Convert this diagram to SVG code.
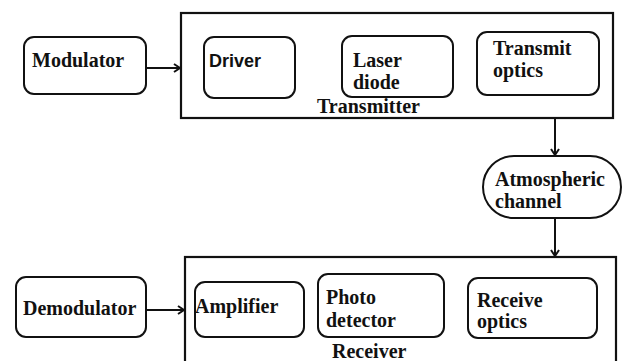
<svg xmlns="http://www.w3.org/2000/svg" width="628" height="361" viewBox="0 0 628 361">
  <style>
    .box { fill: #fff; stroke: #111; stroke-width: 2; }
    .frame { fill: #fff; stroke: #111; stroke-width: 2.2; }
    .serif { font-family: "Liberation Serif", "Times New Roman", serif; font-weight: bold; font-size: 20px; fill: #111; }
    .sans { font-family: "Liberation Sans", Arial, sans-serif; font-weight: bold; font-size: 18px; fill: #111; }
    .wire { fill: none; stroke: #111; stroke-width: 2; }
  </style>
  <defs>
    <marker id="arrow" markerWidth="10" markerHeight="10" refX="8" refY="5" orient="auto" markerUnits="userSpaceOnUse">
      <path d="M2,1 L8,5 L2,9" fill="none" stroke="#111" stroke-width="2"/>
    </marker>
  </defs>
  <rect width="628" height="361" fill="#fff"/>

  <g id="transmitter">
    <rect class="frame" x="181" y="13" width="432" height="105"/>
    <text class="serif" x="317" y="113">Transmitter</text>
  </g>
  <g id="receiver">
    <rect class="frame" x="185" y="257" width="431" height="110"/>
    <text class="serif" x="332" y="358">Receiver</text>
  </g>

  <g id="modulator">
    <rect class="box" x="24" y="37" width="122" height="57" rx="10"/>
    <text class="serif" x="32" y="67">Modulator</text>
  </g>
  <g id="driver">
    <rect class="box" x="204" y="37" width="91" height="61" rx="10"/>
    <text class="sans" x="209" y="67">Driver</text>
  </g>
  <g id="laser-diode">
    <rect class="box" x="342" y="36" width="111" height="61" rx="10"/>
    <text class="serif" x="353" y="67">Laser</text>
    <text class="serif" x="353" y="89">diode</text>
  </g>
  <g id="transmit-optics">
    <rect class="box" x="477" y="32" width="122" height="63" rx="10"/>
    <text class="serif" x="493" y="55">Transmit</text>
    <text class="serif" x="493" y="77">optics</text>
  </g>
  <g id="atmospheric-channel">
    <rect class="box" x="483" y="156" width="138" height="62" rx="31"/>
    <text class="serif" x="495" y="186">Atmospheric</text>
    <text class="serif" x="495" y="208">channel</text>
  </g>
  <g id="demodulator">
    <rect class="box" x="16" y="277" width="130" height="60" rx="10"/>
    <text class="serif" x="23" y="315">Demodulator</text>
  </g>
  <g id="amplifier">
    <rect class="box" x="195" y="282" width="109" height="55" rx="10"/>
    <text class="serif" x="195" y="313">Amplifier</text>
  </g>
  <g id="photo-detector">
    <rect class="box" x="318" y="274" width="126" height="63" rx="10"/>
    <text class="serif" x="326" y="304">Photo</text>
    <text class="serif" x="326" y="327">detector</text>
  </g>
  <g id="receive-optics">
    <rect class="box" x="468" y="278" width="129" height="60" rx="10"/>
    <text class="serif" x="477" y="307">Receive</text>
    <text class="serif" x="477" y="328">optics</text>
  </g>

  <g id="connectors">
    <line class="wire" x1="146" y1="68" x2="180" y2="68" marker-end="url(#arrow)"/>
    <line class="wire" x1="555" y1="118" x2="555" y2="155" marker-end="url(#arrow)"/>
    <line class="wire" x1="555" y1="218" x2="555" y2="256" marker-end="url(#arrow)"/>
    <line class="wire" x1="146" y1="310" x2="184" y2="310" marker-end="url(#arrow)"/>
  </g>
</svg>
